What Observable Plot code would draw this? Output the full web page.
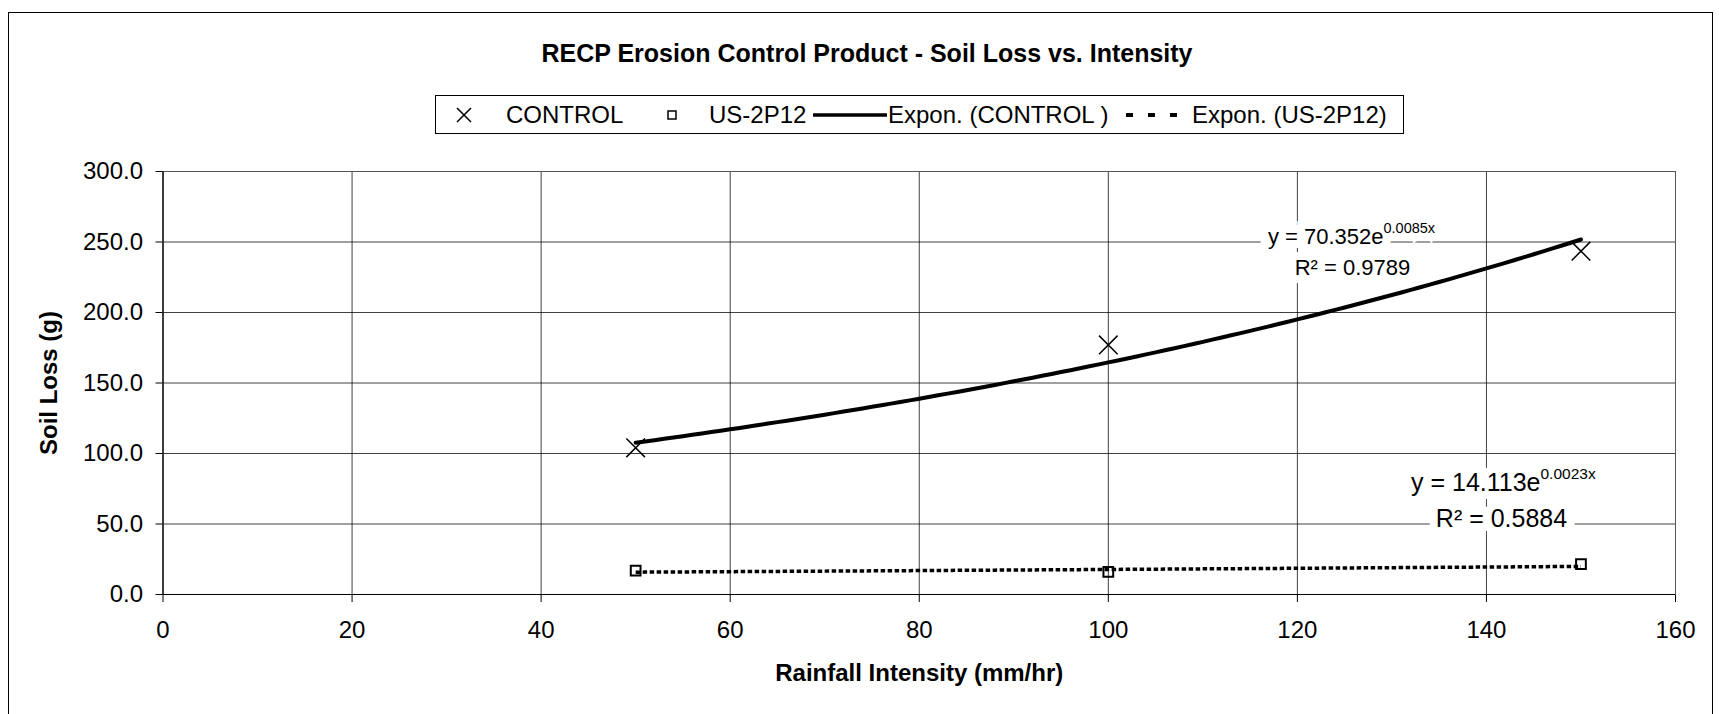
<!DOCTYPE html>
<html><head><meta charset="utf-8">
<script src="https://cdn.jsdelivr.net/npm/d3@7"></script>
<script src="https://cdn.jsdelivr.net/npm/@observablehq/plot@0.6"></script>
<style>
body{margin:0;background:#fff;font-family:"Liberation Sans",Arial,sans-serif;}
#fig{position:relative;width:1719px;height:714px;overflow:hidden;background:#fff;}
#border{position:absolute;left:8px;top:12px;width:1705px;height:730px;border:1px solid #000;box-sizing:border-box;}
#title{position:absolute;left:867px;top:40.8px;transform:translateX(-50%);font-weight:bold;font-size:25px;line-height:25px;white-space:nowrap;}
#legend{position:absolute;left:435px;top:95px;width:969px;height:39px;border:1px solid #000;box-sizing:border-box;background:#fff;}
#legend .lt{position:absolute;top:6.7px;font-size:24px;line-height:24px;white-space:nowrap;}
#legend svg{position:absolute;overflow:visible;}
#chart{position:absolute;left:0;top:140px;}
</style>
</head><body>
<div id="fig">
  <div id="border"></div>
  <div id="title">RECP Erosion Control Product - Soil Loss vs. Intensity</div>
  <div id="legend"></div>
  <div id="chart"></div>
</div>
<script>
// ---- data ----
const intensity = [50, 100, 150];
const controlLoss = [104, 177, 243.5];
const us2p12Loss = [17.0, 16.0, 21.5];
const xTicks = [0, 20, 40, 60, 80, 100, 120, 140, 160];
const yTicks = [0, 50, 100, 150, 200, 250, 300];
const trendCoefA = [70.352, 14.113];
const trendCoefB = [0.0085, 0.0023];
const eqMain = ["y = 70.352e", "y = 14.113e"];
const eqSup = ["0.0085x", "0.0023x"];
const eqR2 = ["R\u00B2 = 0.9789", "R\u00B2 = 0.5884"];
const legendLabels = ["CONTROL", "US-2P12", "Expon. (CONTROL )", "Expon. (US-2P12)"];
const xTitle = "Rainfall Intensity (mm/hr)";
const yTitle = "Soil Loss (g)";

// ---- derived tables ----
const controlPts = intensity.map((x, i) => ({x, y: controlLoss[i]}));
const usPts = intensity.map((x, i) => ({x, y: us2p12Loss[i]}));
const trendX = d3.range(d3.min(intensity), d3.max(intensity) + 0.5, 1);
const trendControl = trendX.map(x => ({x, y: trendCoefA[0] * Math.exp(trendCoefB[0] * x)}));
const trendUS = trendX.map(x => ({x, y: trendCoefA[1] * Math.exp(trendCoefB[1] * x)}));

const font = "Liberation Sans, Arial, sans-serif";
const halo = {fill: "#fff", stroke: "#fff", strokeWidth: 16, strokeLinejoin: "miter"};
function eqMarks(i, anchor, o) {
  const out = [];
  for (const pass of [halo, {fill: "#000"}]) {
    out.push(
      Plot.text([eqMain[i]], {text: d => d, frameAnchor: anchor, dx: o.mx, dy: o.my, textAnchor: "end", lineAnchor: "bottom", fontSize: o.fs, ...pass}),
      Plot.text([eqSup[i]], {text: d => d, frameAnchor: anchor, dx: o.mx, dy: o.sy, textAnchor: "start", lineAnchor: "bottom", fontSize: o.ss, ...pass}),
      Plot.text([eqR2[i]], {text: d => d, frameAnchor: anchor, dx: o.rx, dy: o.ry, textAnchor: "middle", lineAnchor: "bottom", fontSize: o.fs, ...pass})
    );
  }
  return out;
}

const chart = Plot.plot({
  width: 1719, height: 574,
  marginLeft: 162.5, marginRight: 44, marginTop: 31, marginBottom: 120,
  style: {fontFamily: font, fontSize: "24px", color: "#000", background: "transparent", overflow: "visible"},
  x: {domain: [0, 160], ticks: xTicks, tickSize: 8, tickPadding: 18, label: null, tickFormat: d => String(d)},
  y: {domain: [0, 300], ticks: yTicks, tickSize: 7, tickPadding: 13, label: null, tickFormat: d3.format(".1f")},
  marks: [
    Plot.ruleX(xTicks, {stroke: "#000", strokeOpacity: 0.75}),
    Plot.ruleY(yTicks, {stroke: "#000", strokeOpacity: 0.75}),
    Plot.frame({stroke: "#555"}),
    Plot.ruleX([0], {stroke: "#000"}),
    Plot.ruleY([0], {stroke: "#000"}),
    Plot.line(trendControl, {x: "x", y: "y", stroke: "#000", strokeWidth: 4}),
    Plot.line(trendUS, {x: "x", y: "y", stroke: "#000", strokeWidth: 3.5, strokeDasharray: "4.5,2.5", strokeLinecap: "butt", strokeLinejoin: "miter"}),
    Plot.dot(controlPts, {x: "x", y: "y", symbol: "times", r: 8.5, stroke: "#000", strokeWidth: 1.5}),
    Plot.dot(usPts, {x: "x", y: "y", symbol: "square", r: 5.5, stroke: "#000", strokeWidth: 2, fill: "none"}),
    ...eqMarks(0, "top-right", {mx: -292, my: 72, sy: 61, rx: -323, ry: 103, fs: 22, ss: 14.5}),
    ...eqMarks(1, "bottom-right", {mx: -135, my: -104, sy: -116, rx: -174, ry: -68, fs: 25, ss: 15.5}),
    Plot.text([xTitle], {text: d => d, frameAnchor: "bottom", lineAnchor: "top", dy: 69, fontWeight: "bold", fontSize: 24}),
    Plot.text([yTitle], {text: d => d, frameAnchor: "left", rotate: -90, dx: -114, lineAnchor: "middle", textAnchor: "middle", fontWeight: "bold", fontSize: 24})
  ]
});
document.getElementById("chart").appendChild(chart);

// ---- legend (HTML) ----
const leg = d3.select("#legend");
const midY = 18.5;
// CONTROL marker (times)
leg.append("svg").attr("width", 1).attr("height", 1).style("left", "28px").style("top", midY + "px")
  .append("path").attr("d", "M-7,-7L7,7M7,-7L-7,7").attr("stroke", "#000").attr("stroke-width", 1.5).attr("fill", "none");
leg.append("span").attr("class", "lt").style("left", "70px").text(legendLabels[0]);
// US-2P12 marker (square)
leg.append("svg").attr("width", 1).attr("height", 1).style("left", "236px").style("top", midY + "px")
  .append("rect").attr("x", -4).attr("y", -4).attr("width", 8).attr("height", 8).attr("stroke", "#000").attr("stroke-width", 1.5).attr("fill", "none");
leg.append("span").attr("class", "lt").style("left", "273px").text(legendLabels[1]);
// solid trend line
leg.append("svg").attr("width", 1).attr("height", 1).style("left", "377px").style("top", midY + "px")
  .append("line").attr("x1", 0).attr("x2", 74).attr("y1", 0).attr("y2", 0).attr("stroke", "#000").attr("stroke-width", 3.5);
leg.append("span").attr("class", "lt").style("left", "452px").text(legendLabels[2]);
// dashed trend line
leg.append("svg").attr("width", 1).attr("height", 1).style("left", "690px").style("top", midY + "px")
  .append("line").attr("x1", 0).attr("x2", 51).attr("y1", 0).attr("y2", 0).attr("stroke", "#000").attr("stroke-width", 4).attr("stroke-dasharray", "7,15");
leg.append("span").attr("class", "lt").style("left", "756px").text(legendLabels[3]);
</script>
</body></html>
